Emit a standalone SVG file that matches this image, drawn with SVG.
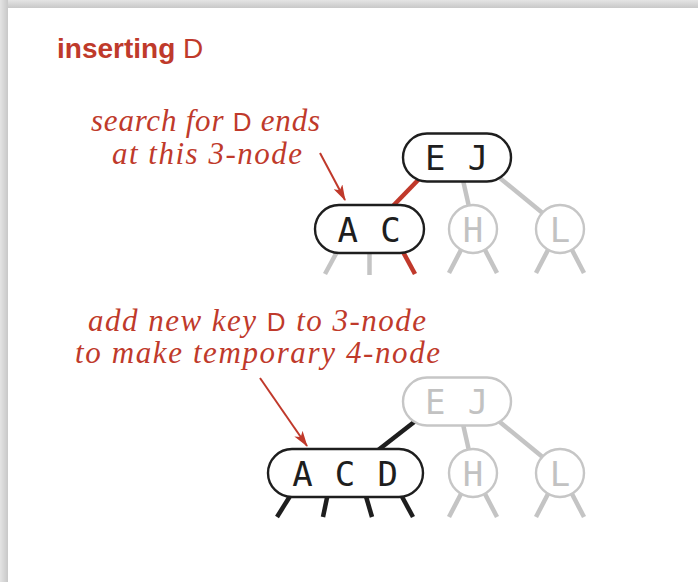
<svg xmlns="http://www.w3.org/2000/svg" width="698" height="582" viewBox="0 0 698 582">
  <style>
    .red { fill: #bf3a2b; }
    .note { font-family: "Liberation Serif", serif; font-style: italic; font-size: 31px; fill: #bf3a2b; }
    .key { font-family: "Liberation Sans", Arial, sans-serif; font-style: normal; font-size: 26px; }
    .lbl { font-family: "DejaVu Sans Mono", monospace; font-size: 34px; text-anchor: middle; letter-spacing: 0.8px; }
    .on  { fill: #ffffff; stroke: #1e1e1e; stroke-width: 2.4; }
    .off { fill: #ffffff; stroke: #c6c6c6; stroke-width: 2.4; }
    .tOn  { fill: #1e1e1e; }
    .tOff { fill: #c2c2c2; }
    .eGray { stroke: #c4c4c4; stroke-width: 4.5; fill: none; }
    .eRed  { stroke: #c0392b; stroke-width: 4.5; fill: none; }
    .eBlack { stroke: #1e1e1e; stroke-width: 4.5; fill: none; }
    .pointer { stroke: #c0392b; stroke-width: 2; fill: none; marker-end: url(#head); }
  </style>
  <defs>
    <linearGradient id="shadeTop" x1="0" y1="0" x2="0" y2="1">
      <stop offset="0" stop-color="#e4e4e4"/>
      <stop offset="1" stop-color="#c8c8c8"/>
    </linearGradient>
    <linearGradient id="shadeLeft" x1="0" y1="0" x2="1" y2="0">
      <stop offset="0" stop-color="#e4e4e4"/>
      <stop offset="1" stop-color="#c8c8c8"/>
    </linearGradient>
    <marker id="head" viewBox="0 0 16 10" refX="15" refY="5" markerWidth="16" markerHeight="10" markerUnits="userSpaceOnUse" orient="auto">
      <path d="M0,0 L16,5 L0,10 L4,5 Z" fill="#c0392b"/>
    </marker>
  </defs>

  <!-- page with a soft edge shadow -->
  <rect x="0" y="0" width="698" height="582" fill="#dcdcdc"/>
  <rect x="0" y="0" width="698" height="8" fill="url(#shadeTop)"/>
  <rect x="0" y="0" width="8" height="582" fill="url(#shadeLeft)"/>
  <rect x="8" y="8" width="690" height="574" fill="#ffffff"/>

  <!-- title -->
  <text x="57" y="57.5" font-family="'Liberation Sans', Arial, sans-serif" font-weight="bold" font-size="28" class="red">inserting <tspan font-weight="normal">D</tspan></text>

  <!-- annotations -->
  <g id="note-search">
    <text class="note" x="91" y="131" textLength="229">search for <tspan class="key">D</tspan> ends</text>
    <text class="note" x="112" y="164" textLength="190">at this 3-node</text>
  </g>
  <g id="note-add">
    <text class="note" x="88" y="331" textLength="338">add new key <tspan class="key">D</tspan> to 3-node</text>
    <text class="note" x="75" y="363" textLength="365">to make temporary 4-node</text>
  </g>

  <!-- connectors -->
  <g id="connectors">
    <!-- upper tree -->
    <line class="eRed" x1="421" y1="177" x2="391" y2="208"/>
    <line class="eGray" x1="462.5" y1="178" x2="469.5" y2="209"/>
    <line class="eGray" x1="495" y1="174" x2="545" y2="215"/>
    <line class="eGray" x1="338" y1="250" x2="325" y2="274"/>
    <line class="eGray" x1="369.5" y1="250" x2="369.5" y2="275"/>
    <line class="eRed" x1="402" y1="250" x2="415" y2="274"/>
    <line class="eGray" x1="462" y1="248" x2="449" y2="273"/>
    <line class="eGray" x1="484" y1="248" x2="497" y2="273"/>
    <line class="eGray" x1="549" y1="248" x2="536" y2="273"/>
    <line class="eGray" x1="571" y1="248" x2="584" y2="273"/>
    <!-- lower tree -->
    <line class="eBlack" x1="418" y1="419" x2="375" y2="452.5"/>
    <line class="eGray" x1="462.5" y1="422" x2="469.5" y2="453"/>
    <line class="eGray" x1="495" y1="418" x2="545" y2="459"/>
    <line class="eBlack" x1="292" y1="493" x2="277" y2="517"/>
    <line class="eBlack" x1="328" y1="493" x2="323" y2="517"/>
    <line class="eBlack" x1="365" y1="493" x2="372" y2="517"/>
    <line class="eBlack" x1="400" y1="493" x2="413" y2="517"/>
    <line class="eGray" x1="462" y1="492" x2="449" y2="517"/>
    <line class="eGray" x1="484" y1="492" x2="497" y2="517"/>
    <line class="eGray" x1="549" y1="492" x2="536" y2="517"/>
    <line class="eGray" x1="571" y1="492" x2="584" y2="517"/>
    <!-- pointers from the notes -->
    <line class="pointer" x1="320" y1="153" x2="345" y2="200"/>
    <line class="pointer" x1="260" y1="378" x2="307" y2="446"/>
  </g>

  <!-- upper tree nodes -->
  <g id="ej-1">
    <rect class="on" x="403" y="133.5" width="108" height="48" rx="24"/>
    <text class="lbl tOn" x="457" y="170">E J</text>
  </g>
  <g id="ac-1">
    <rect class="on" x="315" y="205" width="109" height="48" rx="24"/>
    <text class="lbl tOn" x="369.5" y="241.5">A C</text>
  </g>
  <g id="h-1">
    <circle class="off" cx="473" cy="229" r="24"/>
    <text class="lbl tOff" x="473.5" y="241.5">H</text>
  </g>
  <g id="l-1">
    <circle class="off" cx="560" cy="229" r="24"/>
    <text class="lbl tOff" x="560.5" y="241.5">L</text>
  </g>

  <!-- lower tree nodes -->
  <g id="ej-2">
    <rect class="off" x="403" y="377.5" width="108" height="48" rx="24"/>
    <text class="lbl tOff" x="457" y="414">E J</text>
  </g>
  <g id="acd-2">
    <rect class="on" x="268" y="449" width="155" height="48" rx="24"/>
    <text class="lbl tOn" x="345.5" y="485.5">A C D</text>
  </g>
  <g id="h-2">
    <circle class="off" cx="473" cy="473" r="24"/>
    <text class="lbl tOff" x="473.5" y="485.5">H</text>
  </g>
  <g id="l-2">
    <circle class="off" cx="560" cy="473" r="24"/>
    <text class="lbl tOff" x="560.5" y="485.5">L</text>
  </g>
</svg>
